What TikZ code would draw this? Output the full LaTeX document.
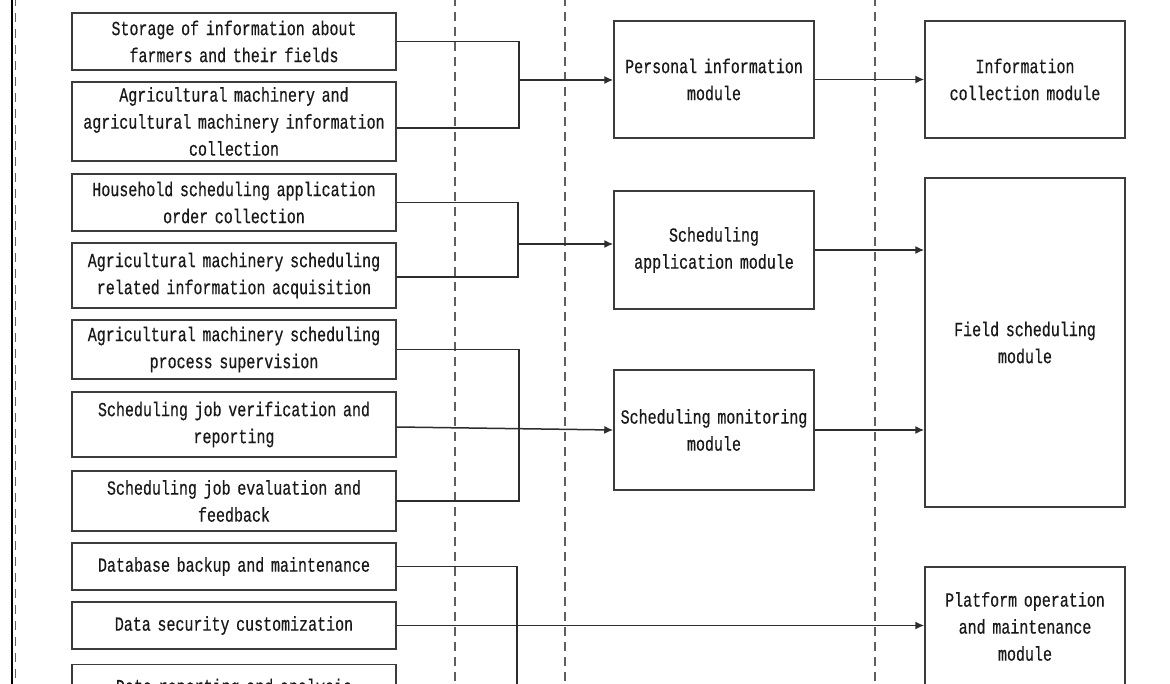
\documentclass[tikz,border=0pt]{standalone}
\usepackage{fontspec}
\setmainfont{Liberation Mono}[FakeStretch=0.75,FakeBold=0.4]
\usetikzlibrary{arrows.meta,calc}
\definecolor{boxc}{RGB}{60,60,60}
\definecolor{linec}{RGB}{45,45,45}
\definecolor{txtc}{RGB}{25,25,25}
\definecolor{sepc}{RGB}{95,95,95}
\begin{document}
\begin{tikzpicture}[x=1pt,y=-1pt,
  box/.style={draw=boxc, line width=1.5pt, inner sep=0pt, align=center,
    font=\fontsize{20}{27}\selectfont, text=txtc},
  lbox/.style={box, minimum width=324pt, text width=322pt},
  mbox/.style={box, minimum width=200pt, text width=198pt},
  conn/.style={draw=linec, line width=1.5pt},
  arr/.style={conn, -{Latex[length=9pt,width=8pt]}},
  sep/.style={draw=sepc, line width=1.3pt, dash pattern=on 9pt off 6pt}]
\begin{scope}
\clip (0,0) rectangle (1170,684);
\fill[white] (0,0) rectangle (1170,684);
% frame and separators
\draw[black, line width=2.2pt] (12,-5) -- (12,690);
\draw[sepc, line width=1.6pt, dash pattern=on 9pt off 7pt] (15.5,-3) -- (15.5,690);
\draw[sep] (455,-3) -- (455,690);
\draw[sep] (565,-3) -- (565,690);
\draw[sep] (875,-3) -- (875,690);
% left boxes
\node[lbox, minimum height=57pt] (b1) at (234,41.5) {Storage of information about\\farmers and their fields};
\node[lbox, minimum height=79pt] (b2) at (234,121.5) {Agricultural machinery and\\agricultural machinery information\\collection};
\node[lbox, minimum height=57pt] (b3) at (234,202.5) {Household scheduling application\\order collection};
\node[lbox, minimum height=65pt] (b4) at (234,275.5) {Agricultural machinery scheduling\\related information acquisition};
\node[lbox, minimum height=59pt] (b5) at (234,349.5) {Agricultural machinery scheduling\\process supervision};
\node[lbox, minimum height=65pt] (b6) at (234,424.5) {Scheduling job verification and\\reporting};
\node[lbox, minimum height=60pt] (b7) at (234,501) {Scheduling job evaluation and\\feedback};
\node[lbox, minimum height=47pt] (b8) at (234,566.5) {Database backup and maintenance};
\node[lbox, minimum height=47pt] (b9) at (234,625.5) {Data security customization};
\node[lbox, minimum height=47pt] (b10) at (234,688) {Data reporting and analysis};
% middle modules
\node[mbox, minimum height=117pt] (pim) at (714,79.5) {Personal information\\module};
\node[mbox, minimum height=118pt] (sam) at (714,250) {Scheduling\\application module};
\node[mbox, minimum height=120pt] (smm) at (714,430) {Scheduling monitoring\\module};
% right modules
\node[mbox, minimum height=117pt] (icm) at (1025,79.5) {Information\\collection module};
\node[mbox, minimum height=329pt] (fsm) at (1025,342.5) {Field scheduling\\module};
\node[mbox, minimum height=119pt] (plat) at (1025,626.5) {Platform operation\\and maintenance\\module};
% junctions
\coordinate (j1) at (519,80);
\coordinate (j2) at (518,244);
\coordinate (j3) at (519,430);
\coordinate (j4) at (517,688);
% group 1
\draw[conn] (b1.east) -| (j1);
\draw[conn] ([yshift=-6.5pt]b2.east) -| (j1);
\draw[arr] (j1) -- (j1 -| pim.west);
% group 2
\draw[conn] (b3.east) -| (j2);
\draw[conn] ([yshift=-1.5pt]b4.east) -| (j2);
\draw[arr] (j2) -- (j2 -| sam.west);
% group 3
\draw[conn] (b5.east) -| (j3);
\draw[conn] (b7.east) -| (j3);
\draw[arr] ([yshift=-2.5pt]b6.east) -- (smm.west);
% group 4
\draw[conn] (b8.east) -| (j4) -- (b10.east);
\draw[arr] (b9.east) -- (b9.east -| plat.west);
% outputs
\draw[arr] (pim.east) -- (icm.west);
\draw[arr] (sam.east) -- (sam.east -| fsm.west);
\draw[arr] (smm.east) -- (smm.east -| fsm.west);
\end{scope}
\pgfresetboundingbox
\useasboundingbox (0,0) rectangle (1170,684);
\end{tikzpicture}
\end{document}
